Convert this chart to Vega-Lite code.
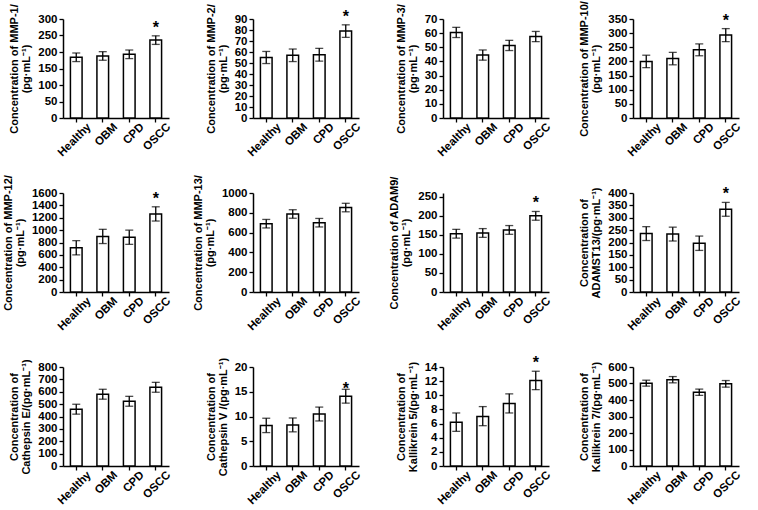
{
  "$schema": "https://vega.github.io/schema/vega-lite/v6.json",
  "background": "white",
  "padding": {"top": 0, "left": 2, "right": 2, "bottom": 0},
  "bounds": "flush",
  "columns": 4,
  "spacing": {"row": 75, "column": 84},
  "config": {
    "font": "Liberation Sans",
    "view": {"stroke": null},
    "axis": {
      "domainColor": "black", "domainWidth": 1.5, "tickColor": "black", "tickWidth": 1.3, "tickSize": 4,
      "labelColor": "black", "labelFont": "Liberation Sans", "labelFontSize": 11.5, "labelFontWeight": "bold",
      "titleColor": "black", "titleFont": "Liberation Sans", "titleFontSize": 11, "titleFontWeight": "bold",
      "grid": false, "labelOverlap": false, "labelFlush": false, "labelPadding": 2, "titlePadding": 6, "titleLineHeight": 12
    },
    "axisY": {"tickCount": 30, "format": "d"},
    "axisX": {"title": null, "labelAngle": -45, "labelAlign": "right", "labelBaseline": "middle", "labelFontSize": 11.5, "tickOffset": -13.25, "labelOffset": 13.25, "labelPadding": 3},
    "bar": {"fill": "white", "stroke": "black", "strokeWidth": 1.5},
    "rule": {"color": "black", "strokeWidth": 1.3},
    "tick": {"color": "black", "size": 8, "thickness": 1.3},
    "text": {"fontSize": 16, "fontWeight": "bold", "dy": -8, "color": "black"}
  },
  "datasets": {
    "rows": [
      {"panel": "MMP-1", "group": "Healthy", "mean": 184, "lo": 171, "hi": 197, "sig": ""},
      {"panel": "MMP-1", "group": "OBM", "mean": 188, "lo": 175, "hi": 201, "sig": ""},
      {"panel": "MMP-1", "group": "CPD", "mean": 193, "lo": 180, "hi": 206, "sig": ""},
      {"panel": "MMP-1", "group": "OSCC", "mean": 236, "lo": 223, "hi": 249, "sig": "*"},
      {"panel": "MMP-2", "group": "Healthy", "mean": 55, "lo": 49.5, "hi": 60.5, "sig": ""},
      {"panel": "MMP-2", "group": "OBM", "mean": 57, "lo": 51.3, "hi": 62.7, "sig": ""},
      {"panel": "MMP-2", "group": "CPD", "mean": 57.5, "lo": 51.7, "hi": 63.3, "sig": ""},
      {"panel": "MMP-2", "group": "OSCC", "mean": 79, "lo": 73.3, "hi": 84.7, "sig": "*"},
      {"panel": "MMP-3", "group": "Healthy", "mean": 60.5, "lo": 56.9, "hi": 64.1, "sig": ""},
      {"panel": "MMP-3", "group": "OBM", "mean": 44.5, "lo": 40.9, "hi": 48.1, "sig": ""},
      {"panel": "MMP-3", "group": "CPD", "mean": 51.3, "lo": 47.7, "hi": 54.9, "sig": ""},
      {"panel": "MMP-3", "group": "OSCC", "mean": 57.6, "lo": 54, "hi": 61.2, "sig": ""},
      {"panel": "MMP-10", "group": "Healthy", "mean": 200, "lo": 178, "hi": 222, "sig": ""},
      {"panel": "MMP-10", "group": "OBM", "mean": 210, "lo": 188, "hi": 232, "sig": ""},
      {"panel": "MMP-10", "group": "CPD", "mean": 241, "lo": 220, "hi": 262, "sig": ""},
      {"panel": "MMP-10", "group": "OSCC", "mean": 293, "lo": 270, "hi": 316, "sig": "*"},
      {"panel": "MMP-12", "group": "Healthy", "mean": 715, "lo": 600, "hi": 830, "sig": ""},
      {"panel": "MMP-12", "group": "OBM", "mean": 898, "lo": 783, "hi": 1013, "sig": ""},
      {"panel": "MMP-12", "group": "CPD", "mean": 885, "lo": 770, "hi": 1000, "sig": ""},
      {"panel": "MMP-12", "group": "OSCC", "mean": 1262, "lo": 1147, "hi": 1377, "sig": "*"},
      {"panel": "MMP-13", "group": "Healthy", "mean": 690, "lo": 647, "hi": 733, "sig": ""},
      {"panel": "MMP-13", "group": "OBM", "mean": 788, "lo": 745, "hi": 831, "sig": ""},
      {"panel": "MMP-13", "group": "CPD", "mean": 700, "lo": 657, "hi": 743, "sig": ""},
      {"panel": "MMP-13", "group": "OSCC", "mean": 853, "lo": 810, "hi": 896, "sig": ""},
      {"panel": "ADAM9", "group": "Healthy", "mean": 153, "lo": 141.5, "hi": 164.5, "sig": ""},
      {"panel": "ADAM9", "group": "OBM", "mean": 155, "lo": 143.5, "hi": 166.5, "sig": ""},
      {"panel": "ADAM9", "group": "CPD", "mean": 163, "lo": 151.5, "hi": 174.5, "sig": ""},
      {"panel": "ADAM9", "group": "OSCC", "mean": 200, "lo": 188.5, "hi": 211.5, "sig": "*"},
      {"panel": "ADAMST13", "group": "Healthy", "mean": 236, "lo": 208, "hi": 264, "sig": ""},
      {"panel": "ADAMST13", "group": "OBM", "mean": 234, "lo": 206, "hi": 262, "sig": ""},
      {"panel": "ADAMST13", "group": "CPD", "mean": 197, "lo": 168, "hi": 226, "sig": ""},
      {"panel": "ADAMST13", "group": "OSCC", "mean": 334, "lo": 306, "hi": 362, "sig": "*"},
      {"panel": "CathE", "group": "Healthy", "mean": 459, "lo": 419, "hi": 499, "sig": ""},
      {"panel": "CathE", "group": "OBM", "mean": 580, "lo": 540, "hi": 620, "sig": ""},
      {"panel": "CathE", "group": "CPD", "mean": 523, "lo": 483, "hi": 563, "sig": ""},
      {"panel": "CathE", "group": "OSCC", "mean": 636, "lo": 596, "hi": 676, "sig": ""},
      {"panel": "CathV", "group": "Healthy", "mean": 8.2, "lo": 6.75, "hi": 9.65, "sig": ""},
      {"panel": "CathV", "group": "OBM", "mean": 8.3, "lo": 6.9, "hi": 9.7, "sig": ""},
      {"panel": "CathV", "group": "CPD", "mean": 10.5, "lo": 9.1, "hi": 11.9, "sig": ""},
      {"panel": "CathV", "group": "OSCC", "mean": 14.1, "lo": 12.7, "hi": 15.5, "sig": "*"},
      {"panel": "KLK5", "group": "Healthy", "mean": 6.2, "lo": 4.9, "hi": 7.5, "sig": ""},
      {"panel": "KLK5", "group": "OBM", "mean": 7.0, "lo": 5.7, "hi": 8.4, "sig": ""},
      {"panel": "KLK5", "group": "CPD", "mean": 8.85, "lo": 7.5, "hi": 10.2, "sig": ""},
      {"panel": "KLK5", "group": "OSCC", "mean": 12.1, "lo": 10.8, "hi": 13.4, "sig": "*"},
      {"panel": "KLK7", "group": "Healthy", "mean": 502, "lo": 484, "hi": 520, "sig": ""},
      {"panel": "KLK7", "group": "OBM", "mean": 523, "lo": 504, "hi": 542, "sig": ""},
      {"panel": "KLK7", "group": "CPD", "mean": 447, "lo": 428, "hi": 466, "sig": ""},
      {"panel": "KLK7", "group": "OSCC", "mean": 498, "lo": 478, "hi": 518, "sig": ""}
    ]
  },
  "data": {"name": "rows"},
  "concat": [
    {
      "width": 106, "height": 99,
      "transform": [{"filter": "datum.panel === 'MMP-1'"}],
      "encoding": {"x": {"field": "group", "type": "nominal", "sort": ["Healthy", "OBM", "CPD", "OSCC"], "scale": {"paddingInner": 0.56, "paddingOuter": 0.28}}},
      "layer": [
        {"mark": "bar", "encoding": {"y": {"field": "mean", "type": "quantitative", "scale": {"domain": [0, 300]}, "axis": {"title": ["Concentration of MMP-1/", "(pg·mL⁻¹)"], "values": [0, 50, 100, 150, 200, 250, 300]}}}},
        {"mark": "rule", "encoding": {"y": {"field": "lo", "type": "quantitative"}, "y2": {"field": "hi"}}},
        {"mark": "tick", "encoding": {"y": {"field": "lo", "type": "quantitative"}}},
        {"mark": "tick", "encoding": {"y": {"field": "hi", "type": "quantitative"}}},
        {"mark": "text", "encoding": {"y": {"field": "hi", "type": "quantitative"}, "text": {"field": "sig"}}}
      ]
    },
    {
      "width": 106, "height": 99,
      "transform": [{"filter": "datum.panel === 'MMP-2'"}],
      "encoding": {"x": {"field": "group", "type": "nominal", "sort": ["Healthy", "OBM", "CPD", "OSCC"], "scale": {"paddingInner": 0.56, "paddingOuter": 0.28}}},
      "layer": [
        {"mark": "bar", "encoding": {"y": {"field": "mean", "type": "quantitative", "scale": {"domain": [0, 90]}, "axis": {"title": ["Concentration of MMP-2/", "(pg·mL⁻¹)"], "values": [0, 10, 20, 30, 40, 50, 60, 70, 80, 90]}}}},
        {"mark": "rule", "encoding": {"y": {"field": "lo", "type": "quantitative"}, "y2": {"field": "hi"}}},
        {"mark": "tick", "encoding": {"y": {"field": "lo", "type": "quantitative"}}},
        {"mark": "tick", "encoding": {"y": {"field": "hi", "type": "quantitative"}}},
        {"mark": "text", "encoding": {"y": {"field": "hi", "type": "quantitative"}, "text": {"field": "sig"}}}
      ]
    },
    {
      "width": 106, "height": 99,
      "transform": [{"filter": "datum.panel === 'MMP-3'"}],
      "encoding": {"x": {"field": "group", "type": "nominal", "sort": ["Healthy", "OBM", "CPD", "OSCC"], "scale": {"paddingInner": 0.56, "paddingOuter": 0.28}}},
      "layer": [
        {"mark": "bar", "encoding": {"y": {"field": "mean", "type": "quantitative", "scale": {"domain": [0, 70]}, "axis": {"title": ["Concentration of MMP-3/", "(pg·mL⁻¹)"], "values": [0, 10, 20, 30, 40, 50, 60, 70]}}}},
        {"mark": "rule", "encoding": {"y": {"field": "lo", "type": "quantitative"}, "y2": {"field": "hi"}}},
        {"mark": "tick", "encoding": {"y": {"field": "lo", "type": "quantitative"}}},
        {"mark": "tick", "encoding": {"y": {"field": "hi", "type": "quantitative"}}},
        {"mark": "text", "encoding": {"y": {"field": "hi", "type": "quantitative"}, "text": {"field": "sig"}}}
      ]
    },
    {
      "width": 106, "height": 99,
      "transform": [{"filter": "datum.panel === 'MMP-10'"}],
      "encoding": {"x": {"field": "group", "type": "nominal", "sort": ["Healthy", "OBM", "CPD", "OSCC"], "scale": {"paddingInner": 0.56, "paddingOuter": 0.28}}},
      "layer": [
        {"mark": "bar", "encoding": {"y": {"field": "mean", "type": "quantitative", "scale": {"domain": [0, 350]}, "axis": {"title": ["Concentration of MMP-10/", "(pg·mL⁻¹)"], "values": [0, 50, 100, 150, 200, 250, 300, 350]}}}},
        {"mark": "rule", "encoding": {"y": {"field": "lo", "type": "quantitative"}, "y2": {"field": "hi"}}},
        {"mark": "tick", "encoding": {"y": {"field": "lo", "type": "quantitative"}}},
        {"mark": "tick", "encoding": {"y": {"field": "hi", "type": "quantitative"}}},
        {"mark": "text", "encoding": {"y": {"field": "hi", "type": "quantitative"}, "text": {"field": "sig"}}}
      ]
    },
    {
      "width": 106, "height": 99,
      "transform": [{"filter": "datum.panel === 'MMP-12'"}],
      "encoding": {"x": {"field": "group", "type": "nominal", "sort": ["Healthy", "OBM", "CPD", "OSCC"], "scale": {"paddingInner": 0.56, "paddingOuter": 0.28}}},
      "layer": [
        {"mark": "bar", "encoding": {"y": {"field": "mean", "type": "quantitative", "scale": {"domain": [0, 1600]}, "axis": {"title": ["Concentration of MMP-12/", "(pg·mL⁻¹)"], "values": [0, 200, 400, 600, 800, 1000, 1200, 1400, 1600]}}}},
        {"mark": "rule", "encoding": {"y": {"field": "lo", "type": "quantitative"}, "y2": {"field": "hi"}}},
        {"mark": "tick", "encoding": {"y": {"field": "lo", "type": "quantitative"}}},
        {"mark": "tick", "encoding": {"y": {"field": "hi", "type": "quantitative"}}},
        {"mark": "text", "encoding": {"y": {"field": "hi", "type": "quantitative"}, "text": {"field": "sig"}}}
      ]
    },
    {
      "width": 106, "height": 99,
      "transform": [{"filter": "datum.panel === 'MMP-13'"}],
      "encoding": {"x": {"field": "group", "type": "nominal", "sort": ["Healthy", "OBM", "CPD", "OSCC"], "scale": {"paddingInner": 0.56, "paddingOuter": 0.28}}},
      "layer": [
        {"mark": "bar", "encoding": {"y": {"field": "mean", "type": "quantitative", "scale": {"domain": [0, 1000]}, "axis": {"title": ["Concentration of MMP-13/", "(pg·mL⁻¹)"], "values": [0, 200, 400, 600, 800, 1000]}}}},
        {"mark": "rule", "encoding": {"y": {"field": "lo", "type": "quantitative"}, "y2": {"field": "hi"}}},
        {"mark": "tick", "encoding": {"y": {"field": "lo", "type": "quantitative"}}},
        {"mark": "tick", "encoding": {"y": {"field": "hi", "type": "quantitative"}}},
        {"mark": "text", "encoding": {"y": {"field": "hi", "type": "quantitative"}, "text": {"field": "sig"}}}
      ]
    },
    {
      "width": 106, "height": 99,
      "transform": [{"filter": "datum.panel === 'ADAM9'"}],
      "encoding": {"x": {"field": "group", "type": "nominal", "sort": ["Healthy", "OBM", "CPD", "OSCC"], "scale": {"paddingInner": 0.56, "paddingOuter": 0.28}}},
      "layer": [
        {"mark": "bar", "encoding": {"y": {"field": "mean", "type": "quantitative", "scale": {"domain": [0, 250]}, "axis": {"title": ["Concentration of ADAM9/", "(pg·mL⁻¹)"], "values": [0, 50, 100, 150, 200, 250]}}}},
        {"mark": "rule", "encoding": {"y": {"field": "lo", "type": "quantitative"}, "y2": {"field": "hi"}}},
        {"mark": "tick", "encoding": {"y": {"field": "lo", "type": "quantitative"}}},
        {"mark": "tick", "encoding": {"y": {"field": "hi", "type": "quantitative"}}},
        {"mark": "text", "encoding": {"y": {"field": "hi", "type": "quantitative"}, "text": {"field": "sig"}}}
      ]
    },
    {
      "width": 106, "height": 99,
      "transform": [{"filter": "datum.panel === 'ADAMST13'"}],
      "encoding": {"x": {"field": "group", "type": "nominal", "sort": ["Healthy", "OBM", "CPD", "OSCC"], "scale": {"paddingInner": 0.56, "paddingOuter": 0.28}}},
      "layer": [
        {"mark": "bar", "encoding": {"y": {"field": "mean", "type": "quantitative", "scale": {"domain": [0, 400]}, "axis": {"title": ["Concentration of", "ADAMST13/(pg·mL⁻¹)"], "values": [0, 50, 100, 150, 200, 250, 300, 350, 400]}}}},
        {"mark": "rule", "encoding": {"y": {"field": "lo", "type": "quantitative"}, "y2": {"field": "hi"}}},
        {"mark": "tick", "encoding": {"y": {"field": "lo", "type": "quantitative"}}},
        {"mark": "tick", "encoding": {"y": {"field": "hi", "type": "quantitative"}}},
        {"mark": "text", "encoding": {"y": {"field": "hi", "type": "quantitative"}, "text": {"field": "sig"}}}
      ]
    },
    {
      "width": 106, "height": 99,
      "transform": [{"filter": "datum.panel === 'CathE'"}],
      "encoding": {"x": {"field": "group", "type": "nominal", "sort": ["Healthy", "OBM", "CPD", "OSCC"], "scale": {"paddingInner": 0.56, "paddingOuter": 0.28}}},
      "layer": [
        {"mark": "bar", "encoding": {"y": {"field": "mean", "type": "quantitative", "scale": {"domain": [0, 800]}, "axis": {"title": ["Concentration of", "Cathepsin E/(pg·mL⁻¹)"], "values": [0, 100, 200, 300, 400, 500, 600, 700, 800]}}}},
        {"mark": "rule", "encoding": {"y": {"field": "lo", "type": "quantitative"}, "y2": {"field": "hi"}}},
        {"mark": "tick", "encoding": {"y": {"field": "lo", "type": "quantitative"}}},
        {"mark": "tick", "encoding": {"y": {"field": "hi", "type": "quantitative"}}},
        {"mark": "text", "encoding": {"y": {"field": "hi", "type": "quantitative"}, "text": {"field": "sig"}}}
      ]
    },
    {
      "width": 106, "height": 99,
      "transform": [{"filter": "datum.panel === 'CathV'"}],
      "encoding": {"x": {"field": "group", "type": "nominal", "sort": ["Healthy", "OBM", "CPD", "OSCC"], "scale": {"paddingInner": 0.56, "paddingOuter": 0.28}}},
      "layer": [
        {"mark": "bar", "encoding": {"y": {"field": "mean", "type": "quantitative", "scale": {"domain": [0, 20]}, "axis": {"title": ["Concentration of", "Cathepsin V /(pg·mL⁻¹)"], "values": [0, 5, 10, 15, 20]}}}},
        {"mark": "rule", "encoding": {"y": {"field": "lo", "type": "quantitative"}, "y2": {"field": "hi"}}},
        {"mark": "tick", "encoding": {"y": {"field": "lo", "type": "quantitative"}}},
        {"mark": "tick", "encoding": {"y": {"field": "hi", "type": "quantitative"}}},
        {"mark": {"type": "text", "dy": 0}, "encoding": {"y": {"field": "hi", "type": "quantitative"}, "text": {"field": "sig"}}}
      ]
    },
    {
      "width": 106, "height": 99,
      "transform": [{"filter": "datum.panel === 'KLK5'"}],
      "encoding": {"x": {"field": "group", "type": "nominal", "sort": ["Healthy", "OBM", "CPD", "OSCC"], "scale": {"paddingInner": 0.56, "paddingOuter": 0.28}}},
      "layer": [
        {"mark": "bar", "encoding": {"y": {"field": "mean", "type": "quantitative", "scale": {"domain": [0, 14]}, "axis": {"title": ["Concentration of", "Kallikrein 5/(pg·mL⁻¹)"], "values": [0, 2, 4, 6, 8, 10, 12, 14]}}}},
        {"mark": "rule", "encoding": {"y": {"field": "lo", "type": "quantitative"}, "y2": {"field": "hi"}}},
        {"mark": "tick", "encoding": {"y": {"field": "lo", "type": "quantitative"}}},
        {"mark": "tick", "encoding": {"y": {"field": "hi", "type": "quantitative"}}},
        {"mark": "text", "encoding": {"y": {"field": "hi", "type": "quantitative"}, "text": {"field": "sig"}}}
      ]
    },
    {
      "width": 106, "height": 99,
      "transform": [{"filter": "datum.panel === 'KLK7'"}],
      "encoding": {"x": {"field": "group", "type": "nominal", "sort": ["Healthy", "OBM", "CPD", "OSCC"], "scale": {"paddingInner": 0.56, "paddingOuter": 0.28}}},
      "layer": [
        {"mark": "bar", "encoding": {"y": {"field": "mean", "type": "quantitative", "scale": {"domain": [0, 600]}, "axis": {"title": ["Concentration of", "Kallikrein 7/(pg·mL⁻¹)"], "values": [0, 100, 200, 300, 400, 500, 600]}}}},
        {"mark": "rule", "encoding": {"y": {"field": "lo", "type": "quantitative"}, "y2": {"field": "hi"}}},
        {"mark": "tick", "encoding": {"y": {"field": "lo", "type": "quantitative"}}},
        {"mark": "tick", "encoding": {"y": {"field": "hi", "type": "quantitative"}}},
        {"mark": "text", "encoding": {"y": {"field": "hi", "type": "quantitative"}, "text": {"field": "sig"}}}
      ]
    }
  ]
}
